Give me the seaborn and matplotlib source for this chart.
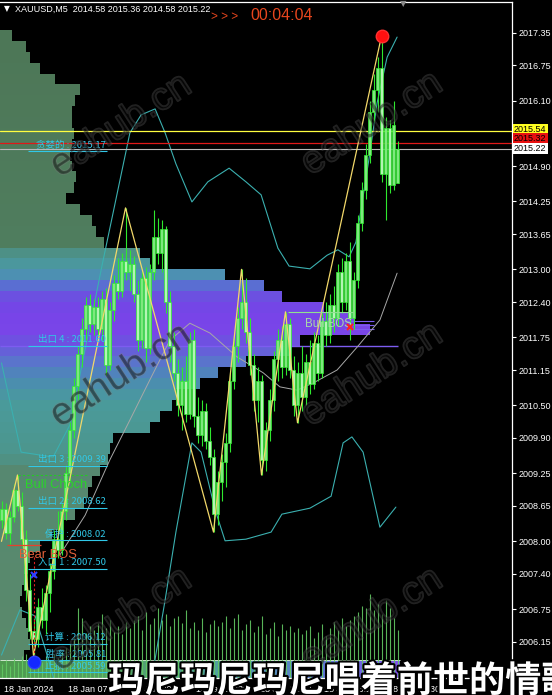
import numpy as np
import seaborn as sns
import matplotlib.pyplot as plt
import matplotlib.patheffects as pe
from matplotlib.colors import to_rgb
from matplotlib.transforms import ScaledTranslation

# ---- values (XAUUSD M5) ----
bar_open = [2008.40, 2008.60, 2008.15, 2008.45, 2008.95, 2008.65, 2008.05, 2007.10, 2006.35, 2006.20,
            2006.80, 2006.55, 2007.05, 2007.45, 2008.05, 2007.85, 2008.55, 2009.25, 2010.05, 2010.85,
            2011.45, 2011.90, 2012.35, 2012.00, 2012.30, 2011.90, 2012.45, 2011.25, 2012.25, 2012.75,
            2012.60, 2013.15, 2012.95, 2013.10, 2012.55, 2011.70, 2012.85, 2011.55, 2012.95, 2013.60,
            2013.30, 2013.75, 2012.40, 2011.60, 2011.10, 2010.50, 2010.95, 2010.35, 2011.70, 2010.30,
            2009.95, 2010.40, 2009.85, 2009.55, 2008.50, 2009.10, 2009.45, 2009.80, 2010.95, 2011.60,
            2012.10, 2012.40, 2011.85, 2011.25, 2010.60, 2010.95, 2009.50, 2010.05, 2010.60, 2011.35,
            2011.70, 2011.20, 2012.00, 2011.15, 2010.50, 2011.10, 2010.65, 2011.30, 2010.90, 2011.65,
            2011.10, 2012.05, 2011.80, 2012.35, 2012.10, 2012.95, 2012.40, 2013.15, 2012.10, 2012.80,
            2013.85, 2014.45, 2015.10, 2015.90, 2016.30, 2016.70, 2014.75, 2015.60, 2014.55, 2014.58]
bar_high = [2008.75, 2008.70, 2008.55, 2009.05, 2009.22, 2008.90, 2008.20, 2007.40, 2006.60, 2006.95,
            2007.15, 2007.20, 2007.60, 2008.20, 2008.55, 2008.70, 2009.40, 2010.20, 2011.00, 2011.60,
            2012.10, 2012.50, 2012.55, 2012.45, 2012.50, 2012.60, 2012.65, 2012.40, 2012.90, 2013.20,
            2013.30, 2014.13, 2013.35, 2013.25, 2012.80, 2013.00, 2013.05, 2013.10, 2014.10, 2013.95,
            2013.90, 2013.80, 2012.60, 2011.85, 2011.35, 2011.20, 2011.40, 2011.85, 2011.90, 2010.65,
            2010.60, 2010.55, 2010.10, 2009.70, 2009.30, 2009.60, 2010.00, 2011.10, 2011.75, 2012.30,
            2013.00, 2012.85, 2012.10, 2011.45, 2011.20, 2011.05, 2010.20, 2010.80, 2011.50, 2011.90,
            2011.95, 2012.22, 2012.10, 2011.40, 2011.30, 2011.60, 2011.45, 2011.70, 2011.85, 2011.80,
            2012.20, 2012.40, 2012.55, 2012.70, 2013.10, 2013.20, 2013.30, 2013.50, 2012.95, 2014.00,
            2014.60, 2015.30, 2016.10, 2016.60, 2016.90, 2017.29, 2015.80, 2015.75, 2016.10, 2015.36]
bar_low = [2008.25, 2008.05, 2007.95, 2008.35, 2008.55, 2007.90, 2006.90, 2006.20, 2005.90, 2006.05,
           2006.40, 2006.30, 2006.70, 2007.30, 2007.70, 2007.75, 2008.40, 2009.10, 2009.90, 2010.60,
           2011.20, 2011.70, 2011.85, 2011.80, 2011.75, 2011.70, 2011.05, 2011.15, 2012.05, 2012.45,
           2012.50, 2012.80, 2012.60, 2012.40, 2011.50, 2011.55, 2011.30, 2011.45, 2012.80, 2013.10,
           2012.95, 2012.20, 2011.30, 2010.95, 2010.30, 2010.05, 2010.20, 2010.25, 2010.10, 2009.80,
           2009.75, 2009.70, 2009.40, 2008.17, 2008.30, 2008.75, 2009.00, 2009.65, 2010.80, 2011.30,
           2011.90, 2011.65, 2011.05, 2010.40, 2010.20, 2009.22, 2009.30, 2009.85, 2010.40, 2010.95,
           2011.00, 2011.05, 2011.00, 2010.30, 2010.18, 2010.40, 2010.50, 2010.70, 2010.80, 2010.95,
           2011.00, 2011.60, 2011.65, 2011.85, 2011.95, 2012.20, 2012.25, 2011.70, 2011.90, 2012.65,
           2013.70, 2014.30, 2014.95, 2015.70, 2015.90, 2014.60, 2013.90, 2014.40, 2014.45, 2014.58]
bar_close = [2008.60, 2008.15, 2008.45, 2008.95, 2008.65, 2008.05, 2007.10, 2006.35, 2006.20, 2006.80,
             2006.55, 2007.05, 2007.45, 2008.05, 2007.85, 2008.55, 2009.25, 2010.05, 2010.85, 2011.45,
             2011.90, 2012.35, 2012.00, 2012.30, 2011.90, 2012.45, 2011.25, 2012.25, 2012.75, 2012.60,
             2013.15, 2012.95, 2013.10, 2012.55, 2011.70, 2012.85, 2011.55, 2012.95, 2013.60, 2013.30,
             2013.75, 2012.40, 2011.60, 2011.10, 2010.50, 2010.95, 2010.35, 2011.70, 2010.30, 2009.95,
             2010.40, 2009.85, 2009.55, 2008.50, 2009.10, 2009.45, 2009.80, 2010.95, 2011.60, 2012.10,
             2012.40, 2011.85, 2011.25, 2010.60, 2010.95, 2009.50, 2010.05, 2010.60, 2011.35, 2011.70,
             2011.20, 2012.00, 2011.15, 2010.50, 2011.10, 2010.65, 2011.30, 2010.90, 2011.65, 2011.10,
             2012.05, 2011.80, 2012.35, 2012.10, 2012.95, 2012.40, 2013.15, 2012.10, 2012.80, 2013.85,
             2014.45, 2015.10, 2015.90, 2016.30, 2016.70, 2014.75, 2015.60, 2014.55, 2015.65, 2015.22]
tick_volume = [168, 216, 144, 240, 192, 264, 288, 216, 312, 240,
               192, 264, 216, 288, 240, 312, 360, 408, 480, 840,
               720, 540, 624, 576, 660, 768, 600, 696, 552, 624,
               528, 672, 600, 696, 744, 576, 792, 648, 720, 840,
               696, 768, 624, 720, 744, 660, 816, 600, 672, 576,
               720, 552, 648, 696, 624, 672, 744, 600, 720, 768,
               576, 648, 696, 552, 624, 744, 528, 600, 672, 504,
               648, 576, 624, 552, 600, 528, 576, 624, 480, 552,
               648, 504, 600, 672, 576, 720, 624, 696, 744, 792,
               864, 840, 1008, 816, 888, 768, 936, 840, 720, 576]

# volume profile on the left
profile_price = [2017.3, 2017.1, 2016.9, 2016.7, 2016.5, 2016.3, 2016.1, 2015.9, 2015.7, 2015.5,
                 2015.3, 2015.1, 2014.9, 2014.7, 2014.5, 2014.3, 2014.1, 2013.9, 2013.7, 2013.5,
                 2013.3, 2013.1, 2012.9, 2012.7, 2012.5, 2012.3, 2012.1, 2011.9, 2011.7, 2011.5,
                 2011.3, 2011.1, 2010.9, 2010.7, 2010.5, 2010.3, 2010.1, 2009.9, 2009.7, 2009.5,
                 2009.3, 2009.1, 2008.9, 2008.7, 2008.5, 2008.3, 2008.1, 2007.9, 2007.7, 2007.5,
                 2007.3, 2007.1, 2006.9, 2006.7, 2006.5, 2006.3, 2006.1, 2005.9]
profile_vol = [12, 26, 30, 40, 55, 80, 75, 72, 72, 74,
               72, 70, 72, 76, 74, 66, 80, 92, 96, 104,
               140, 150, 225, 264, 282, 324, 355, 370, 300, 290,
               246, 218, 200, 176, 172, 160, 150, 113, 110, 108,
               100, 92, 88, 84, 75, 60, 52, 40, 30, 28,
               24, 22, 20, 22, 26, 28, 30, 24]
poc_line = 2011.60

# zigzag swing points (bar, price)
zz_bar = [0, 4, 8, 31, 53, 60, 65, 71, 74, 95]
zz_price = [2008.00, 2009.22, 2005.90, 2014.13, 2008.17, 2013.00, 2009.22, 2012.22, 2010.18, 2017.29]

# envelope lines (bar, price)
upper_bar = [0, 4.9, 12.9, 17.1, 25.1, 32.1, 34.9, 38.4, 40.9, 43.6, 47.6, 51.6, 56.9, 61.1, 64.9,
             69.1, 71.9, 77.1, 81.4, 84.1, 86.9, 88.6, 92.1, 93.9, 96.4, 98.9]
upper_price = [2011.28, 2009.64, 2009.55, 2010.14, 2013.06, 2015.51, 2015.84, 2015.95, 2015.51, 2014.94,
               2014.24, 2014.61, 2014.86, 2014.61, 2014.37, 2013.39, 2013.06, 2013.01, 2013.26, 2013.36,
               2013.23, 2013.50, 2015.14, 2016.06, 2016.90, 2017.27]
lower_bar = [0, 4.6, 8.4, 11.4, 14.6, 27.1, 37.1, 40.9, 43.6, 47.6, 49.9, 53.4, 55.9, 61.1, 67.4,
             70.1, 77.1, 82.4, 85.4, 87.6, 90.4, 94.6, 98.6]
lower_price = [2005.91, 2006.74, 2006.63, 2005.91, 2005.08, 2004.72, 2005.27, 2006.92, 2008.17, 2009.81,
               2009.64, 2008.58, 2008.01, 2008.04, 2008.17, 2008.50, 2008.61, 2008.83, 2009.81, 2009.92,
               2009.64, 2008.26, 2008.63]
mid_bar = [14.6, 20.9, 27.1, 32.1, 37.1, 42.1, 47.1, 52.1, 58.9, 65.4, 69.6, 73.9, 77.9, 83.9, 88.9,
           94.6, 98.9]
mid_price = [2007.75, 2008.48, 2009.50, 2010.23, 2010.97, 2011.70, 2012.01, 2011.83, 2011.39, 2011.10,
             2010.84, 2010.78, 2010.91, 2011.15, 2011.57, 2012.07, 2012.93]

# trade levels
level_names = ['贪婪的', '出口 4', '出口 3', '出口 2', '保护', '入口 1', '计算', '胜率', '止损']
level_prices = [2015.17, 2011.60, 2009.39, 2008.62, 2008.02, 2007.50, 2006.12, 2005.81, 2005.59]

# price lines and axis
ask_line = 2015.54
red_line = 2015.32
bid_line = 2015.22
axis_ticks = [2017.35, 2016.75, 2016.10, 2014.90, 2014.25, 2013.65, 2013.00, 2012.40, 2011.75,
              2011.15, 2010.50, 2009.90, 2009.25, 2008.65, 2008.00, 2007.40, 2006.75, 2006.15]
time_tick_bars = [0, 16, 32, 48, 64, 80, 96]
time_labels = ['18 Jan 2024', '18 Jan 07:50', '18 Jan 09:10', '18 Jan 10:30',
               '18 Jan 11:50', '18 Jan 13:10', '18 Jan 14:30']

header = 'XAUUSD,M5  2014.58 2015.36 2014.58 2015.22'
countdown = '00:04:04'
subtitle = '玛尼玛尼玛尼唱着前世的情歌'

# ---- style ----
sns.set_style('dark')
plt.rcParams['font.family'] = ['Liberation Sans', 'Noto Sans CJK SC', 'DejaVu Sans']
CJK = ['Noto Sans CJK SC', 'DejaVu Sans']

W, H = 552, 695
XL = (-0.375, 127.625)
YL = (2005.488, 2017.915)
rect = [0, 17 / H, 512 / W, 676 / H]

fig = plt.figure(figsize=(W / 100, H / 100), dpi=100, facecolor='black')
ax_prof = fig.add_axes(rect, zorder=0)
ax_vol = fig.add_axes(rect, zorder=1, sharex=ax_prof)
ax = fig.add_axes(rect, zorder=2, sharex=ax_prof, sharey=ax_prof)
ax_prof.axis('off')
ax_vol.axis('off')
ax.set_facecolor('none')

# volume profile, colored by price
prof_stops = [(2005.4, '#5a8a6a'), (2009.3, '#568870'), (2009.6, '#4c958c'), (2010.6, '#4a9a9c'),
              (2011.0, '#4b8ab4'), (2011.3, '#5a74cc'), (2011.6, '#6a56de'), (2011.95, '#7c42ea'),
              (2012.45, '#7048e4'), (2012.7, '#5a6ed2'), (2012.95, '#4a98aa'), (2013.25, '#4c9590'),
              (2013.5, '#4f7d5e'), (2017.6, '#4d7656')]
sp = [s for s, _ in prof_stops]
sc = np.array([to_rgb(c) for _, c in prof_stops])
prof_colors = [tuple(np.interp(p, sp, sc[:, k]) for k in range(3)) for p in profile_price]
ax_prof.barh(profile_price, np.array(profile_vol) * 0.25, height=0.2, left=XL[0],
             color=prof_colors, linewidth=0, zorder=1)
ax_prof.hlines(poc_line, XL[0], 99.2, colors='#7d5cf0', lw=1.0, zorder=2)
ax_prof.hlines([2012.05, 2011.98, 2011.90], 85.5, 93, colors='#7d5cf0', lw=0.8, zorder=2)

# band along the bottom
grad = [(0.0, '#4e9a4e'), (0.3, '#55a065'), (0.55, '#4fa0a0'), (0.8, '#5d78d8'), (1.0, '#8152ea')]
t = np.linspace(0, 1, 200)
gs = [g for g, _ in grad]
gc = np.array([to_rgb(c) for _, c in grad])
strip = np.stack([np.interp(t, gs, gc[:, k]) for k in range(3)], axis=1)[np.newaxis]
ax_prof.imshow(strip, extent=[XL[0], 99.6, YL[0], 2005.80], aspect='auto', zorder=1)
ax_prof.hlines(2005.81, XL[0], 99.6, colors='#cfe8cf', lw=0.7, zorder=2)

# tick volume
bars = np.arange(len(bar_close))
ax_vol.vlines(bars, 0, tick_volume, colors='#62c862', lw=0.8, alpha=0.9)
ax_vol.set_ylim(0, 8100)

# envelope lines
sns.lineplot(x=upper_bar, y=upper_price, sort=False, estimator=None, color='#3bb0b0',
             lw=0.8, ax=ax, zorder=2)
sns.lineplot(x=lower_bar, y=lower_price, sort=False, estimator=None, color='#3bb0b0',
             lw=0.8, ax=ax, zorder=2)
sns.lineplot(x=mid_bar, y=mid_price, sort=False, estimator=None, color='#a8a8a8',
             lw=0.7, ax=ax, zorder=2)

# candles
o = np.array(bar_open)
c = np.array(bar_close)
body_lo = np.minimum(o, c)
body_h = np.maximum(np.abs(c - o), 0.02)
ax.vlines(bars, bar_low, bar_high, colors='#2ee82e', lw=0.8, zorder=3)
face = ['#7ee87e' if cc >= oo else '#b4f5b4' for oo, cc in zip(o, c)]
ax.bar(bars, body_h, bottom=body_lo, width=0.7, color=face, edgecolor='#30ee30',
       linewidth=0.5, zorder=4)

# zigzag
sns.lineplot(x=zz_bar, y=zz_price, sort=False, estimator=None, color='#f2d86a',
             lw=0.9, ax=ax, zorder=5)

# price lines
ax.axhline(ask_line, color='#ffff40', lw=0.9, zorder=2)
ax.axhline(red_line, color='#e01818', lw=0.9, zorder=2)
ax.axhline(bid_line, color='#b8b8b8', lw=0.8, zorder=2)

# trade level labels
for name, price in zip(level_names, level_prices):
    ax.hlines(price, 6.6, 26.4, colors='#30c8e8', lw=0.8, zorder=6)
    ax.text(26.1, price + 0.025, f'{name} : {price:.2f}', ha='right', va='bottom',
            color='#30c8e8', fontsize=6.8, family=CJK, zorder=6)

# structure marks
ax.hlines(zz_price[1], 4, 21.5, colors='#22cc22', linestyles=(0, (2, 2)), lw=0.8, zorder=6)
ax.text(5.9, 2008.98, 'Bull Choch', color='#2ad42a', fontsize=9.3, va='baseline', zorder=6)
ax.hlines(2007.93, 1.4, 9.8, colors='#e8402a', lw=0.9, zorder=6)
ax.vlines(8, 2005.87, 2007.71, colors='#e02020', linestyles=(0, (2, 2)), lw=0.8, zorder=6)
ax.text(4.4, 2007.69, 'Bear BOS', color='#e0603a', fontsize=9.3, va='baseline', zorder=6)
ax.hlines(zz_price[7], 71.6, 87.9, colors='#90e090', lw=0.8, zorder=6)
ax.text(75.8, 2011.94, 'Bull BOS', color='#a8d8a8', fontsize=8.3, va='baseline', zorder=6)

ax.plot(95, 2017.29, 'o', ms=9, color='#ff1010', mec='#ff3030', zorder=7)
ax.plot(8, 2005.78, 'o', ms=9, color='#1428ff', mec='#2a40ff', zorder=7)
ax.plot(8, 2007.38, 'x', ms=5, mew=1.5, color='#3040ff', zorder=7)
ax.plot(87, 2011.94, 'x', ms=5, mew=1.5, color='#ff2020', zorder=7)

# axes
ax.set_xlim(XL)
ax.set_ylim(YL)
ax.grid(False)
ax.yaxis.tick_right()
ax.set_yticks(axis_ticks)
ax.set_yticklabels([f'{v:.2f}' for v in axis_ticks])
ax.set_xticks(time_tick_bars)
ax.set_xticklabels(time_labels)
ax.tick_params(colors='white', labelcolor='white', labelsize=6.5, length=3, width=0.8,
               pad=2, direction='out')
shift = ScaledTranslation(2 / 72, 0, fig.dpi_scale_trans)
for lbl in ax.get_xticklabels():
    lbl.set_ha('left')
    lbl.set_transform(lbl.get_transform() + shift)
ax.set_xlabel('')
ax.set_ylabel('')
ax.spines['left'].set_visible(False)
for side in ['right', 'top', 'bottom']:
    ax.spines[side].set_color('white')
    ax.spines[side].set_linewidth(0.9)

# boxed price labels on the right
ytrans = ax.get_yaxis_transform()
for price, txt, fc in [(ask_line + 0.03, f'{ask_line:.2f}', '#ffff20'),
                       (red_line + 0.08, f'{red_line:.2f}', '#e81010'),
                       (bid_line, f'{bid_line:.2f}', 'white')]:
    ax.text(1.004, price, txt, transform=ytrans, ha='left', va='center', fontsize=6.5,
            color='black', bbox=dict(boxstyle='square,pad=0.12', fc=fc, ec='none'), zorder=8)

# header
fig.text(4 / W, 1 - 9 / H, '▼', color='white', fontsize=5.5, va='center', family=['DejaVu Sans'])
fig.text(15 / W, 1 - 9 / H, header, color='white', fontsize=6.5, va='center')
fig.text(211 / W, 1 - 17 / H, '> > >', color='#e8461e', fontsize=8.5, va='center')
fig.text(250 / W, 1 - 15 / H, countdown, color='#e8461e', fontsize=11.5, va='center')
fig.text(403 / W, 1 - 4 / H, '▼', color='#8a8a8a', fontsize=6, ha='center', va='center',
         family=['DejaVu Sans'])

# watermarks
for wx, wy in [(121, 126), (372, 124), (121, 376), (372, 375), (121, 620), (372, 620)]:
    fig.text(wx / W, 1 - wy / H, 'eahub.cn', fontsize=28, rotation=33, ha='center', va='center',
             rotation_mode='anchor', color=(0.05, 0.05, 0.05, 0.3), zorder=10,
             path_effects=[pe.withStroke(linewidth=1.4, foreground=(0.5, 0.5, 0.5, 0.28))])

# overlay caption
fig.text(108 / W, 3 / H, subtitle, fontsize=26, color='white', fontweight='bold',
         family=CJK, ha='left', va='baseline', zorder=20,
         path_effects=[pe.withStroke(linewidth=3, foreground='black')])

fig.savefig('out.png', dpi=100, facecolor='black')
